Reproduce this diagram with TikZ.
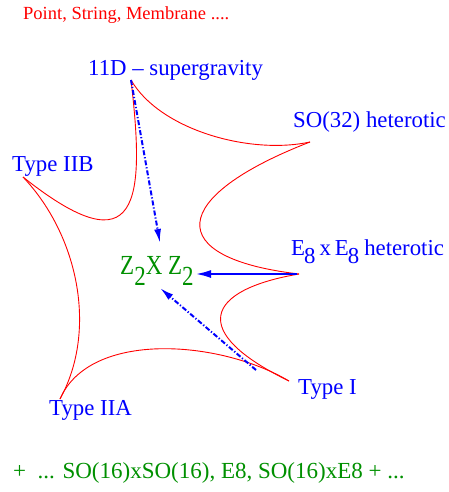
\documentclass[tikz,border=0pt]{standalone}
\usepackage{fontspec}
\setmainfont{Liberation Serif}
\usetikzlibrary{arrows.meta}
\definecolor{xgreen}{RGB}{0,144,0}
\begin{document}
\begin{tikzpicture}[x=1pt,y=-1pt,
  lab/.style={text=blue, font=\fontsize{22.8}{28}\selectfont, anchor=base west, inner sep=0pt},
  redlab/.style={text=red, font=\fontsize{18.5}{22}\selectfont, anchor=base west, inner sep=0pt},
  greenlab/.style={text=xgreen, font=\fontsize{23}{28}\selectfont, anchor=base west, inner sep=0pt},
  curve/.style={red, line width=0.9pt},
  ddarrow/.style={blue, line width=2pt, dash pattern=on 5pt off 2pt on 1.2pt off 2pt, -{Latex[length=14pt,width=7pt]}},
  solarrow/.style={blue, line width=2.5pt, -{Latex[length=16pt,width=8pt]}}]
\useasboundingbox (0,0) rectangle (449,492);
% labels
\node[redlab] (pt) at (23,20) {Point, String, Membrane ....};
\node[lab] (sugra) at (88,76) {11D -- supergravity};
\node[lab] (so) at (293,128) {SO(32) heterotic};
\node[lab] (iib) at (12,171) {Type IIB};
\node[lab] (e8) at (291,255) {E\kern-1pt\raisebox{-8pt}{8}\kern4pt x\kern4pt E\kern-1pt\raisebox{-8pt}{8}\kern5pt heterotic};
\node[lab] (ti) at (298,394) {Type I};
\node[lab] (iia) at (49,415) {Type IIA};
\node[greenlab] (z) at (120,274) {\scalebox{1}[1.2]{Z\raisebox{-9.5pt}{2}X Z\raisebox{-9.5pt}{2}}};
\node[greenlab] (bot) at (13,478) {+\ \ ... SO(16)xSO(16), E8, SO(16)xE8 + ...};
% cusps
\coordinate (c11) at (131,80);
\coordinate (cso) at (310,142);
\coordinate (ciib) at (23,177);
\coordinate (ce) at (299,274);
\coordinate (ci) at (289,381);
\coordinate (ciia) at (60,399);
% star
\draw[curve] (c11) .. controls (160,130) and (250,155) .. (cso);
\draw[curve] (cso) .. controls (168,197) and (162,258) .. (ce);
\draw[curve] (ce) .. controls (205,290) and (188,332) .. (ci);
\draw[curve] (ci) .. controls (220,340) and (90,330) .. (ciia);
\draw[curve] (ciia) .. controls (98,330) and (78,235) .. (ciib);
\draw[curve] (ciib) .. controls (140,270) and (145,200) .. (c11);
% arrows
\coordinate (t1) at (160,243);
\coordinate (s2) at (297,274);
\coordinate (t2) at (195,274);
\coordinate (s3) at (256,370);
\coordinate (t3) at (160,288);
\draw[ddarrow] (c11) -- (t1);
\draw[solarrow] (s2) -- (t2);
\draw[ddarrow] (s3) -- (t3);
\end{tikzpicture}
\end{document}
